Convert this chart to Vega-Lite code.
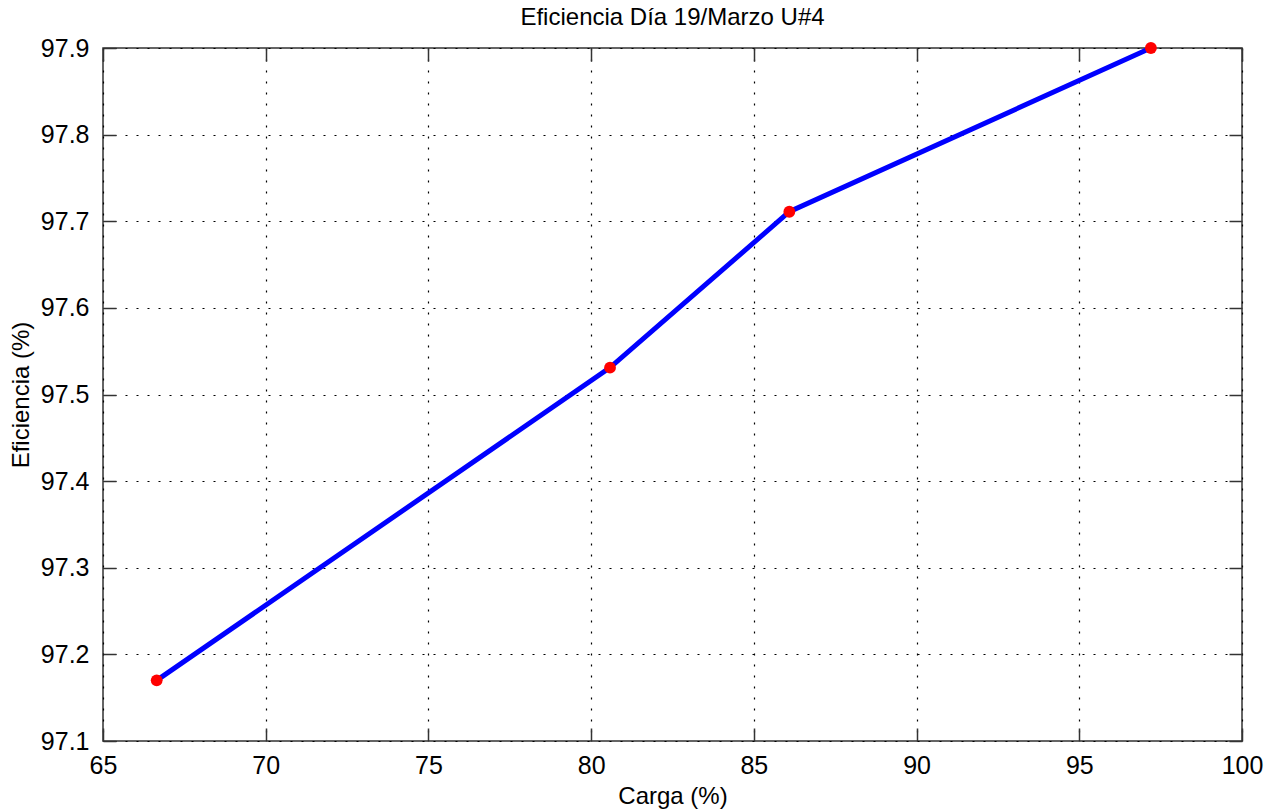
{
  "$schema": "https://vega.github.io/schema/vega-lite/v6.json",
  "autosize": {"type": "none"},
  "width": 1139,
  "height": 693,
  "padding": {"left": 103, "top": 48, "right": 43, "bottom": 70},
  "background": "white",
  "title": {"text": "Eficiencia Día 19/Marzo U#4", "fontSize": 24, "fontWeight": "normal", "font": "Liberation Sans", "color": "black", "baseline": "bottom", "offset": 15, "dy": 33, "anchor": "middle"},
  "config": {
    "view": {"stroke": "#333333", "strokeWidth": 1.5},
    "axis": {
      "labelFont": "Liberation Sans", "labelFontSize": 25, "labelColor": "black", "labelFlush": false, "labelOverlap": false,
      "titleFont": "Liberation Sans", "titleFontSize": 24, "titleFontWeight": "normal", "titleColor": "black",
      "domain": false,
      "tickColor": "#333333", "tickSize": -13, "tickWidth": 1.5,
      "grid": true, "gridColor": "black", "gridDash": [2, 9], "gridWidth": 1.2, "gridOpacity": 1
    }
  },
  "data": {"values": [
    {"carga": 66.65, "eficiencia": 97.17},
    {"carga": 80.58, "eficiencia": 97.531},
    {"carga": 86.09, "eficiencia": 97.711},
    {"carga": 97.2, "eficiencia": 97.9}
  ]},
  "encoding": {
    "x": {"field": "carga", "type": "quantitative", "scale": {"domain": [65, 100], "nice": false, "zero": false}},
    "y": {"field": "eficiencia", "type": "quantitative", "scale": {"domain": [97.1, 97.9], "nice": false, "zero": false}}
  },
  "layer": [
    {
      "mark": {"type": "line", "color": "#0000FF", "strokeWidth": 5},
      "encoding": {
        "x": {"field": "carga", "type": "quantitative", "axis": {"title": "Carga (%)", "values": [65,70,75,80,85,90,95,100], "labelPadding": 25, "titlePadding": 6, "format": "d"}},
        "y": {"field": "eficiencia", "type": "quantitative", "axis": {"title": "Eficiencia (%)", "values": [97.1,97.2,97.3,97.4,97.5,97.6,97.7,97.8,97.9], "labelPadding": 27, "titlePadding": 7, "format": ".1f"}}
      }
    },
    {
      "mark": {"type": "point", "filled": true, "color": "#FF0000", "size": 140, "opacity": 1},
      "encoding": {
        "x": {"field": "carga", "type": "quantitative", "axis": {"orient": "top", "title": null, "labels": false, "grid": false, "values": [65,70,75,80,85,90,95,100]}},
        "y": {"field": "eficiencia", "type": "quantitative", "axis": {"orient": "right", "title": null, "labels": false, "grid": false, "values": [97.1,97.2,97.3,97.4,97.5,97.6,97.7,97.8,97.9]}}
      }
    }
  ],
  "resolve": {"axis": {"x": "independent", "y": "independent"}}
}
